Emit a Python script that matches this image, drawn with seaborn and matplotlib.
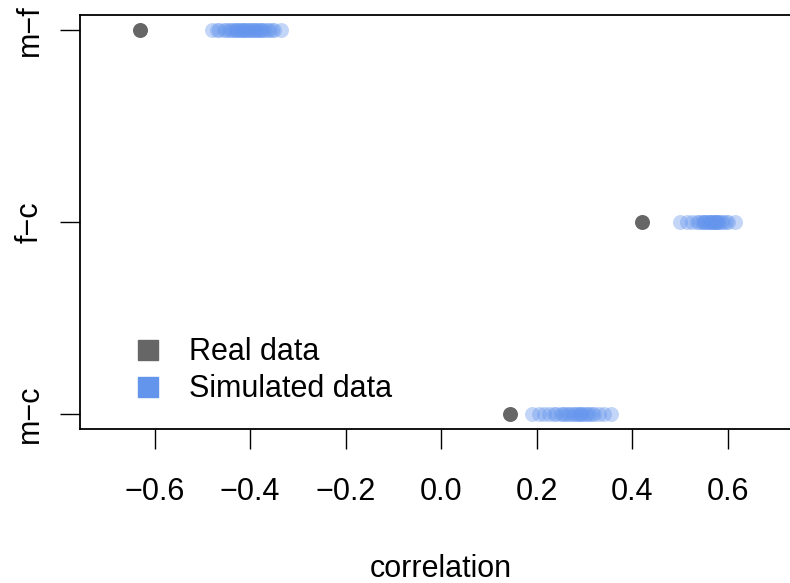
import numpy as np
import pandas as pd
import seaborn as sns
import matplotlib
matplotlib.use("Agg")
import matplotlib.pyplot as plt
from matplotlib.lines import Line2D

# Data
pairs = ["m\u2212f", "f\u2212c", "m\u2212c"]
real_corr = [-0.631, 0.420, 0.143]

sim_mf = [-0.48, -0.47, -0.465, -0.455, -0.45, -0.445, -0.44, -0.435, -0.43, -0.43,
          -0.425, -0.42, -0.42, -0.415, -0.41, -0.41, -0.405, -0.40, -0.40, -0.395,
          -0.39, -0.39, -0.385, -0.38, -0.38, -0.375, -0.37, -0.365, -0.36, -0.355,
          -0.35, -0.335]
sim_fc = [0.50, 0.515, 0.525, 0.535, 0.54, 0.545, 0.55, 0.55, 0.555, 0.56, 0.56,
          0.565, 0.565, 0.57, 0.57, 0.575, 0.575, 0.58, 0.58, 0.585, 0.59, 0.595,
          0.60, 0.615]
sim_mc = [0.19, 0.205, 0.215, 0.225, 0.235, 0.24, 0.25, 0.255, 0.26, 0.265, 0.27,
          0.275, 0.28, 0.285, 0.29, 0.29, 0.295, 0.30, 0.305, 0.31, 0.315, 0.32,
          0.33, 0.34, 0.355]

real_df = pd.DataFrame({"pair": pairs, "corr": real_corr})
sim_df = pd.DataFrame({
    "pair": [pairs[0]] * len(sim_mf) + [pairs[1]] * len(sim_fc) + [pairs[2]] * len(sim_mc),
    "corr": sim_mf + sim_fc + sim_mc,
})

sns.set_style("white")
plt.rcParams["font.family"] = ["Liberation Sans", "DejaVu Sans"]
plt.rcParams["text.color"] = "black"

real_col = "#666666"
sim_col = "#6495ED"
fs = 22

fig = plt.figure(figsize=(7.9, 5.83), dpi=100)
ax = fig.add_axes([80 / 790, (583 - 429.4) / 583, 722.5 / 790, 414.8 / 583])

sns.stripplot(data=sim_df, x="corr", y="pair", order=pairs, jitter=False,
              color=sim_col, alpha=0.38, size=10.8, linewidth=0, ax=ax)
sns.stripplot(data=real_df, x="corr", y="pair", order=pairs, jitter=False,
              color=real_col, size=10.8, linewidth=0, ax=ax)

ax.set_xlim(-0.756, 0.756)
ax.set_ylim(2.08, -0.08)
ax.set_xticks([-0.6, -0.4, -0.2, 0.0, 0.2, 0.4, 0.6])
ax.set_xticklabels(["\u22120.6", "\u22120.4", "\u22120.2", "0.0", "0.2", "0.4", "0.6"])
ax.tick_params(axis="both", direction="out", length=14.4, width=1, labelsize=fs,
               color="black", labelcolor="black", left=True, bottom=True)
ax.tick_params(axis="x", pad=20)
ax.tick_params(axis="y", pad=11)
for lab in ax.get_yticklabels():
    lab.set_rotation(90)
    lab.set_va("center")
ax.set_ylabel("")
ax.set_xlabel("correlation", fontsize=fs, color="black")
ax.xaxis.set_label_coords(0.5, -0.356)
ax.xaxis.label.set_va("baseline")
for s in ax.spines.values():
    s.set_color("black")
    s.set_linewidth(1.3)

handles = [
    Line2D([], [], marker="s", linestyle="", color=real_col, markersize=15),
    Line2D([], [], marker="s", linestyle="", color=sim_col, markersize=15),
]
ax.legend(handles, ["Real data", "Simulated data"], loc="upper left",
          bbox_to_anchor=(117 / 790, (583 - 322) / 583),
          bbox_transform=fig.transFigure, frameon=False, fontsize=fs,
          borderpad=0, handlelength=1.0, handletextpad=0.86, labelspacing=0.23)

fig.savefig("out.png", dpi=100)
